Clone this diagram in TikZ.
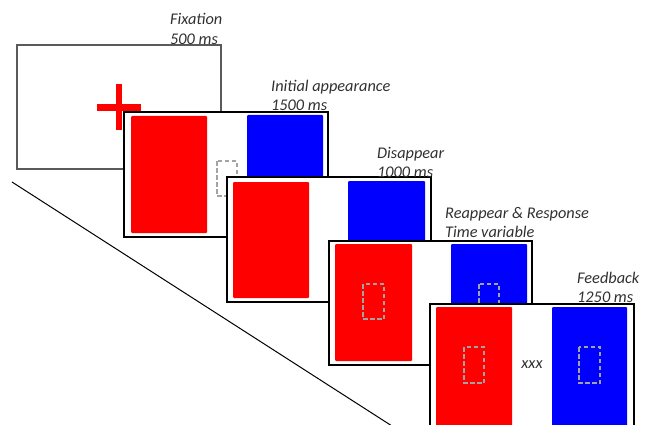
\documentclass[tikz,border=0pt]{standalone}
\usepackage{fontspec}
\setmainfont{Carlito}
\definecolor{stimred}{HTML}{FF0000}
\definecolor{stimblue}{HTML}{0000FF}
\definecolor{labelgray}{HTML}{303030}
\definecolor{placegray}{HTML}{A3A3A3}
\definecolor{framegray}{HTML}{5A5A5A}
\tikzset{
  screen/.style={draw=black, fill=white, line width=1.1pt},
  redbar/.style={fill=stimred, rounded corners=1pt},
  bluebar/.style={fill=stimblue, rounded corners=1pt},
  placeholder/.style={draw=placegray, line width=1.6pt, dash pattern=on 4.5pt off 2.5pt},
  lbl/.style={font=\fontsize{16.3}{20}\selectfont\itshape, text=labelgray, inner sep=0pt, anchor=base west},
}
\begin{document}
\begin{tikzpicture}[x=1pt,y=-1pt]
\useasboundingbox (0,0) rectangle (650,425);
\clip (0,0) rectangle (650,425);

% time axis
\draw[line width=1pt] (12,182) -- (392,426);

% fixation screen
\draw[screen, draw=framegray] (17,45) rectangle (221,169);
\fill[stimred] (116,84) rectangle (122,130);
\fill[stimred] (97,104) rectangle (141,111);

% initial appearance
\draw[screen] (124,112) rectangle (328,237);
\fill[redbar] (131,116) rectangle (207,233);
\fill[bluebar] (247,115) rectangle (323,233);
\draw[placeholder] (217,161) rectangle (237,196);

% disappear
\draw[screen] (227,177) rectangle (431,302);
\fill[redbar] (233,182) rectangle (309,298);
\fill[bluebar] (348,181) rectangle (425,298);

% reappear & response
\draw[screen] (329,241) rectangle (532,365);
\fill[redbar] (335,244) rectangle (412,361);
\fill[bluebar] (451,244) rectangle (527,361);
\draw[placeholder] (363,284) rectangle (384,319);
\draw[placeholder] (479,284) rectangle (499,319);

% feedback
\draw[screen] (430,304) rectangle (634,430);
\fill[redbar] (436,307) rectangle (512,426);
\fill[bluebar] (552,307) rectangle (627,426);
\draw[placeholder] (464,347) rectangle (484,383);
\draw[placeholder] (579,347) rectangle (600,383);
\node[lbl, anchor=base] (fbx) at (532,368) {xxx};

% phase labels
\node[lbl] (fixA) at (170,25) {Fixation};
\node[lbl] (fixB) at (170,45) {500 ms};
\node[lbl] (iniA) at (271,92) {Initial appearance};
\node[lbl] (iniB) at (271,111) {1500 ms};
\node[lbl] (disA) at (377,158) {Disappear};
\node[lbl] (disB) at (377,177) {1000 ms};
\node[lbl] (reaA) at (445,218) {Reappear \& Response};
\node[lbl] (reaB) at (445,237) {Time variable};
\node[lbl] (fedA) at (577,283) {Feedback};
\node[lbl] (fedB) at (577,302) {1250 ms};
\end{tikzpicture}
\end{document}
